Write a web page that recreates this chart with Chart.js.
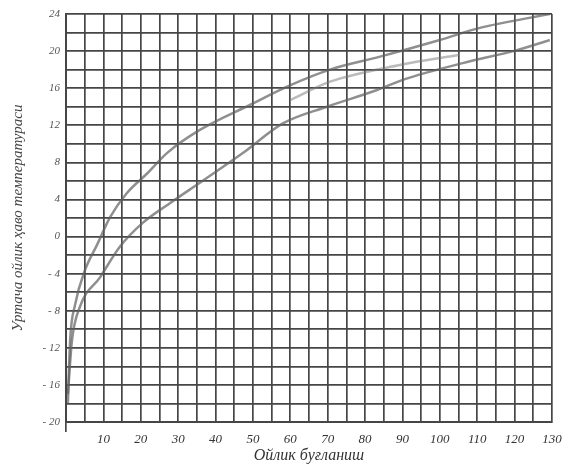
<!DOCTYPE html>
<html>
<head>
<meta charset="utf-8">
<script src="https://cdn.jsdelivr.net/npm/chart.js@4/dist/chart.umd.min.js"></script>
<style>
  html, body { margin: 0; padding: 0; background: #fff; }
  #wrap { width: 580px; height: 469px; }
</style>
</head>
<body>
<div id="wrap"><canvas id="chart"></canvas></div>
<script>
// monthly evaporation (x) vs mean monthly air temperature (y)
const upperX = [0.5, 1.1, 2.4, 5.1, 8.3, 11.8, 16.3, 21.7, 27, 35.8, 49.2, 59.9, 70.6, 84, 100, 110.7, 129.4];
const upperY = [-18, -11.2, -7.4, -3.6, -0.9, 2.1, 4.7, 6.8, 9, 11.5, 14.2, 16.3, 18, 19.4, 21.2, 22.5, 24];

const middleX = [60, 70.6, 89.3, 105.3];
const middleY = [14.7, 16.7, 18.5, 19.6];

const lowerX = [0.5, 1.6, 3.7, 9.1, 14.4, 20.6, 27.8, 35.8, 47.3, 58, 69.8, 83.2, 90.1, 106.1, 120.6, 129.4];
const lowerY = [-17, -11.2, -7.6, -4.4, -1.1, 1.5, 3.6, 5.8, 9, 12.2, 14, 15.8, 16.9, 18.7, 20.1, 21.2];

const xMin = 0, xMax = 130, xStep = 5;
const yMin = -20, yMax = 24, yStep = 2;

const xTitle = 'Ойлик буғланиш';
const yTitle = 'Уртача ойлик ҳаво температураси';

const toPoints = (xs, ys) => xs.map((x, i) => ({ x: x, y: ys[i] }));

const lineStyle = {
    showLine: true,
    borderColor: 'rgba(95,95,95,0.7)',
    borderWidth: 2.5,
    pointRadius: 0,
    tension: 0.4,
    cubicInterpolationMode: 'monotone',
    fill: false,
};

const gridColor = '#464646';

new Chart(document.getElementById('chart').getContext('2d'), {
    type: 'scatter',
    data: {
        datasets: [
            { ...lineStyle, data: toPoints(upperX, upperY) },
            { ...lineStyle, data: toPoints(middleX, middleY), borderColor: 'rgba(120,120,120,0.5)' },
            { ...lineStyle, data: toPoints(lowerX, lowerY) },
        ],
    },
    options: {
        responsive: true,
        maintainAspectRatio: false,
        animation: false,
        layout: { padding: { top: 14, right: 28, left: 0, bottom: 0 } },
        plugins: {
            legend: { display: false },
            tooltip: { enabled: false },
        },
        scales: {
            x: {
                type: 'linear',
                min: xMin,
                max: xMax,
                afterFit: (s) => { s.height = 47; },
                border: { color: gridColor, width: 2 },
                grid: {
                    color: gridColor,
                    lineWidth: 1.7,
                    tickLength: 10,
                    tickColor: (c) => (c.index === 0 ? gridColor : 'transparent'),
                },
                ticks: {
                    stepSize: xStep,
                    autoSkip: false,
                    maxRotation: 0,
                    padding: 0,
                    color: '#333',
                    font: { family: 'Liberation Serif', style: 'italic', size: 13 },
                    callback: (v) => (v > 0 && v % 10 === 0 ? String(v) : ''),
                },
                title: {
                    display: true,
                    text: xTitle,
                    color: '#333',
                    font: { family: 'Liberation Serif', style: 'italic', size: 16 },
                    padding: { top: 0, bottom: 4 },
                },
            },
            y: {
                type: 'linear',
                min: yMin,
                max: yMax,
                afterFit: (s) => { s.width = 66; },
                border: { color: gridColor, width: 2 },
                grid: {
                    color: gridColor,
                    lineWidth: 1.7,
                    drawTicks: false,
                },
                ticks: {
                    stepSize: yStep,
                    autoSkip: false,
                    padding: 6,
                    color: '#555',
                    font: { family: 'Liberation Serif', style: 'italic', size: 11 },
                    callback: (v) => (v % 4 === 0 ? String(v).replace('-', '- ') : ''),
                },
                title: {
                    display: true,
                    text: yTitle,
                    color: '#444',
                    font: { family: 'Liberation Serif', style: 'italic', size: 15 },
                    padding: { top: 9, bottom: 0 },
                },
            },
        },
    },
});
</script>
</body>
</html>
